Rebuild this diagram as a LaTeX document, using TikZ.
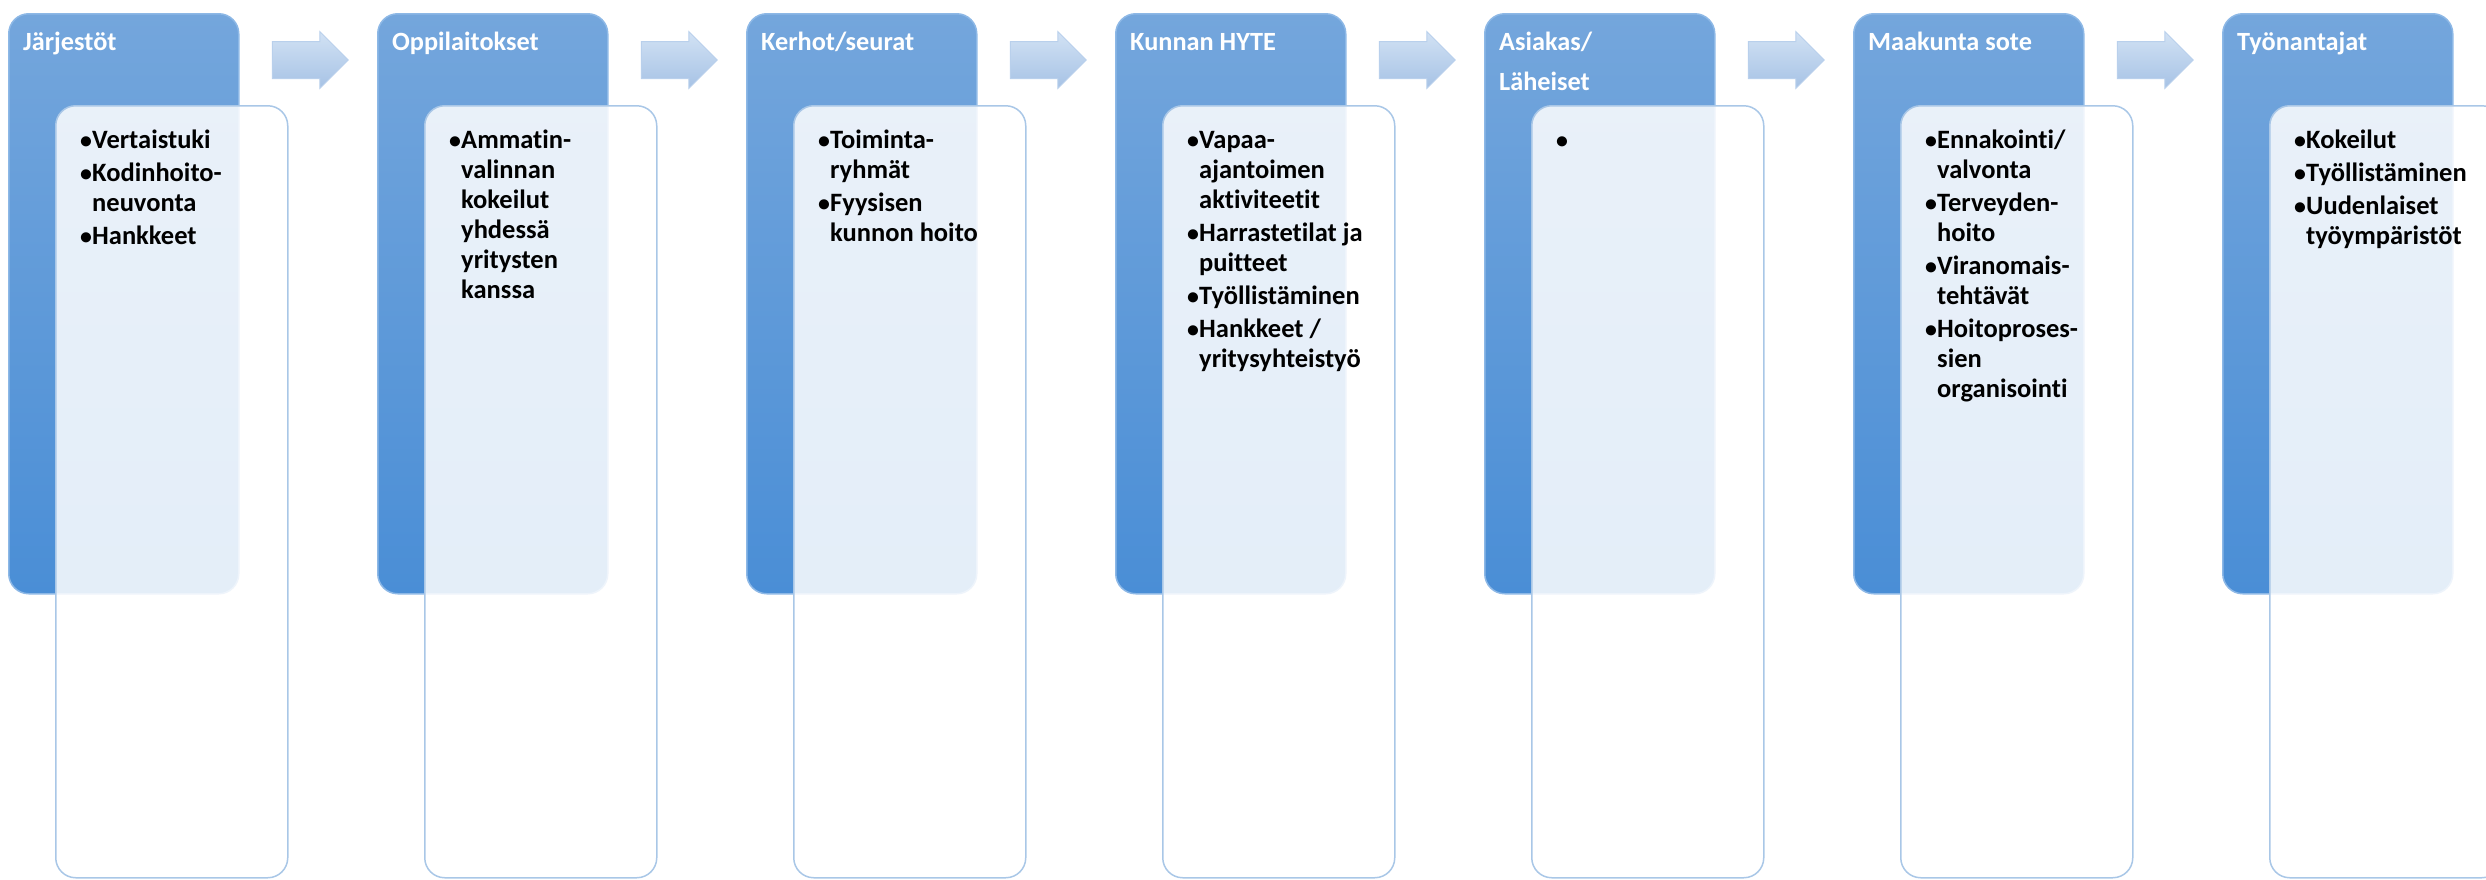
\documentclass[tikz,border=0pt]{standalone}
\usepackage{fontspec}
\setmainfont{Carlito}[Ligatures=NoCommon]
\usepackage{tikz}
\usetikzlibrary{shapes.arrows}
\usetikzlibrary{positioning}
\definecolor{headtop}{HTML}{74A6DC}
\definecolor{headbot}{HTML}{4A8ED6}
\definecolor{headrim}{HTML}{8DB8E6}
\definecolor{cardrim}{HTML}{A9C7E7}
\definecolor{flowtop}{HTML}{D2E2F4}
\definecolor{flowbot}{HTML}{A6C2E5}
\definecolor{flowrim}{HTML}{B9D0EC}
\newcommand{\blt}{\makebox[12pt][l]{\scalebox{0.9}{\textbullet}}}
\newcommand{\cnt}{\hspace*{12pt}}
\tikzset{headbox/.style={anchor=north west, rounded corners=20pt, top color=headtop, bottom color=headbot, draw=headrim, line width=1.5pt, minimum width=230pt, minimum height=580pt, inner sep=0pt}}
\tikzset{card/.style={anchor=north west, rounded corners=20pt, fill=white, fill opacity=0.85, draw=cardrim, line width=1.5pt, minimum width=232pt, minimum height=772pt, inner sep=0pt}}

\begin{document}
\begin{tikzpicture}[x=1pt, y=-1pt]
\tikzstyle{headtxt} = [anchor=north west, inner sep=0pt, text=white, align=left, font=\fontsize{26.3}{40}\selectfont\bfseries]
\tikzstyle{listtxt} = [anchor=north west, inner sep=0pt, text=black, align=left, font=\fontsize{26.5}{30}\selectfont\bfseries]
\tikzstyle{flow} = [shape=single arrow, top color=flowtop, bottom color=flowbot, draw=flowrim, line width=1pt, minimum height=76pt, inner xsep=0pt, inner ysep=18pt, single arrow head extend=10pt]
\useasboundingbox (0,0) rectangle (2486,879);

% Jarjestot
\node[headbox](jarH) at (8,13){};
\node[headtxt](jarT) at (23,22){\strut J\"arjest\"ot};
\node[card](jarC) at (55,105){};
\node[listtxt](jarL) at (80,127){\strut\blt Vertaistuki\\[3pt]\blt Kodinhoito-\\\cnt neuvonta\\[3pt]\blt Hankkeet};
\node[flow](a1) at (301,60){};

% Oppilaitokset
\node[headbox](oppH) at (377,13){};
\node[headtxt](oppT) at (392,22){\strut Oppilaitokset};
\node[card](oppC) at (424,105){};
\node[listtxt](oppL) at (449,127){\strut\blt Ammatin-\\\cnt valinnan\\\cnt kokeilut\\\cnt yhdess\"a\\\cnt yritysten\\\cnt kanssa};
\node[flow](a2) at (670,60){};

% Kerhot/seurat
\node[headbox](kerH) at (746,13){};
\node[headtxt](kerT) at (761,22){\strut Kerhot/seurat};
\node[card](kerC) at (793,105){};
\node[listtxt](kerL) at (818,127){\strut\blt Toiminta-\\\cnt ryhm\"at\\[3pt]\blt Fyysisen\\\cnt kunnon hoito};
\node[flow](a3) at (1039,60){};

% Kunnan HYTE
\node[headbox](kunH) at (1115,13){};
\node[headtxt](kunT) at (1130,22){\strut Kunnan HYTE};
\node[card](kunC) at (1162,105){};
\node[listtxt](kunL) at (1187,127){\strut\blt Vapaa-\\\cnt ajantoimen\\\cnt aktiviteetit\\[3pt]\blt Harrastetilat ja\\\cnt puitteet\\[3pt]\blt Ty\"ollist\"aminen\\[3pt]\blt Hankkeet /\\\cnt yritysyhteisty\"o};
\node[flow](a4) at (1408,60){};

% Asiakas/Laheiset
\node[headbox](asiH) at (1484,13){};
\node[headtxt](asiT) at (1499,22){\strut Asiakas/\\L\"aheiset};
\node[card](asiC) at (1531,105){};
\node[listtxt](asiL) at (1556,127){\strut\blt};
\node[flow](a5) at (1777,60){};

% Maakunta sote
\node[headbox](maaH) at (1853,13){};
\node[headtxt](maaT) at (1868,22){\strut Maakunta sote};
\node[card](maaC) at (1900,105){};
\node[listtxt](maaL) at (1925,127){\strut\blt Ennakointi/\\\cnt valvonta\\[3pt]\blt Terveyden-\\\cnt hoito\\[3pt]\blt Viranomais-\\\cnt teht\"av\"at\\[3pt]\blt Hoitoproses-\\\cnt sien\\\cnt organisointi};
\node[flow](a6) at (2146,60){};

% Tyonantajat
\node[headbox](tyoH) at (2222,13){};
\node[headtxt](tyoT) at (2237,22){\strut Ty\"onantajat};
\node[card](tyoC) at (2269,105){};
\node[listtxt](tyoL) at (2294,127){\strut\blt Kokeilut\\[3pt]\blt Ty\"ollist\"aminen\\[3pt]\blt Uudenlaiset\\\cnt ty\"oymp\"arist\"ot};
\end{tikzpicture}
\end{document}
